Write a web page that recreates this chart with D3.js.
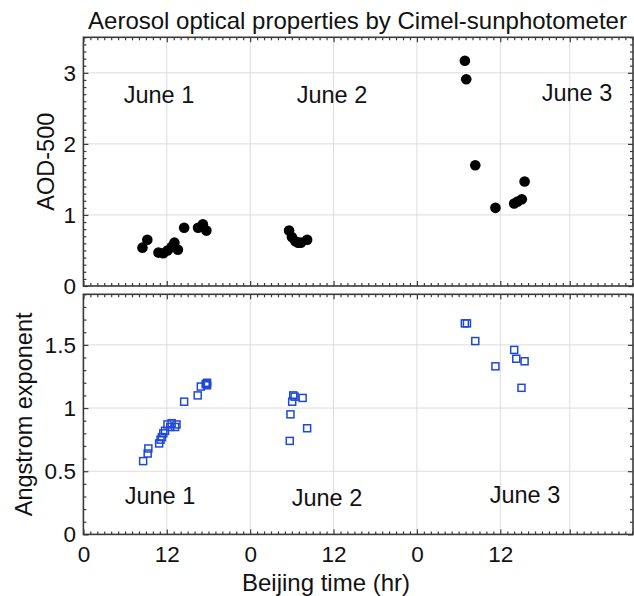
<!DOCTYPE html>
<html>
<head>
<meta charset="utf-8">
<script src="https://cdn.jsdelivr.net/npm/d3@7"></script>
<style>
  html, body { margin: 0; padding: 0; background: #fff; }
  svg { display: block; font-family: "Liberation Sans", Arial, Helvetica, sans-serif; }
</style>
</head>
<body>
<svg id="chart" width="634" height="596"></svg>
<script>
// Time axis: hours since 00:00 Beijing time on June 1
const xTickValues = [0, 12, 24, 36, 48, 60, 70];
const xTickLabels = ["0", "12", "0", "12", "0", "12", ""];

// AOD at 500 nm (upper panel)
const aodHours = [8.5, 9.2, 10.8, 11.5, 12.1, 12.7, 13.1, 13.6, 14.5, 16.5, 17.2, 17.7,
                  29.6, 30.0, 30.5, 30.9, 31.3, 32.2,
                  54.9, 55.1, 56.4, 59.3, 62.0, 62.5, 63.1, 63.5];
const aodValues = [0.54, 0.65, 0.47, 0.46, 0.50, 0.55, 0.61, 0.51, 0.82, 0.82, 0.87, 0.78,
                   0.78, 0.69, 0.63, 0.61, 0.61, 0.65,
                   3.17, 2.91, 1.70, 1.10, 1.16, 1.19, 1.22, 1.47];

// Angstrom exponent (lower panel)
const aeHours = [8.6, 9.25, 9.35, 10.9, 11.1, 11.3, 11.5, 11.75, 12.1, 12.5, 12.7, 13.2, 13.4,
                 14.5, 16.45, 16.9, 17.6, 17.8, 17.8,
                 29.7, 29.8, 30.05, 30.2, 30.4, 31.55, 32.2,
                 54.9, 55.2, 56.4, 59.3, 62.0, 62.3, 63.5, 63.05];
const aeValues = [0.58, 0.64, 0.68, 0.72, 0.75, 0.77, 0.80, 0.82, 0.87, 0.85, 0.88, 0.85, 0.87,
                  1.05, 1.10, 1.17, 1.19, 1.18, 1.20,
                  0.74, 0.95, 1.05, 1.10, 1.09, 1.08, 0.84,
                  1.67, 1.67, 1.53, 1.33, 1.46, 1.39, 1.37, 1.16];

const aodTicks = [0, 1, 2, 3];
const aeTicks = [0, 0.5, 1, 1.5];
const dayLabels = ["June 1", "June 2", "June 3"];

const svg = d3.select("#chart");
const left = 83.4, right = 633;

const x = d3.scaleLinear().domain([0, 79.1]).range([left, right]);
const yTop = d3.scaleLinear().domain([0, 3.5]).range([286, 37.3]);
const yBot = d3.scaleLinear().domain([0, 1.9]).range([534.4, 294.3]);

const gridColor = "#dcdcdc";
const frameColor = "#3a3a3a";
const tickFont = 22.5;

function panel(y, yTicks, showXLabels) {
  const g = svg.append("g");
  const [y0, y1] = y.range();

  // gridlines
  g.selectAll("line.vg").data(xTickValues.filter(d => d > 0)).join("line")
    .attr("x1", d => x(d)).attr("x2", d => x(d))
    .attr("y1", y1).attr("y2", y0)
    .attr("stroke", gridColor).attr("stroke-width", 1);
  g.selectAll("line.hg").data(yTicks.filter(d => d > 0)).join("line")
    .attr("x1", left).attr("x2", right)
    .attr("y1", d => y(d)).attr("y2", d => y(d))
    .attr("stroke", gridColor).attr("stroke-width", 1);

  const xMinor = d3.range(0, 80, 1).filter(d => !xTickValues.includes(d));
  const yStep = 0.1;
  const yMinor = d3.range(0, y.domain()[1] + 1e-9, yStep)
    .map(d => +d.toFixed(2))
    .filter(d => !yTicks.some(t => Math.abs(t - d) < 1e-6));

  const styleAxis = sel => {
    sel.select(".domain").remove();
    sel.selectAll(".tick line").attr("stroke", frameColor).attr("stroke-width", 1.2);
    sel.selectAll(".tick text").attr("font-size", tickFont).attr("fill", "#111")
      .attr("font-family", "Liberation Sans, Arial, sans-serif");
  };

  // bottom axis (major + minor)
  g.append("g").attr("transform", `translate(0,${y0})`)
    .call(d3.axisBottom(x).tickValues(xTickValues)
      .tickFormat((d, i) => showXLabels ? xTickLabels[i] : "")
      .tickSizeInner(-5).tickSizeOuter(0).tickPadding(12))
    .call(styleAxis);
  g.append("g").attr("transform", `translate(0,${y0})`)
    .call(d3.axisBottom(x).tickValues(xMinor).tickFormat("").tickSizeInner(-3).tickSizeOuter(0))
    .call(styleAxis);
  // top axis
  g.append("g").attr("transform", `translate(0,${y1})`)
    .call(d3.axisTop(x).tickValues(xTickValues).tickFormat("").tickSizeInner(-5).tickSizeOuter(0))
    .call(styleAxis);
  g.append("g").attr("transform", `translate(0,${y1})`)
    .call(d3.axisTop(x).tickValues(xMinor).tickFormat("").tickSizeInner(-3).tickSizeOuter(0))
    .call(styleAxis);
  // left axis
  g.append("g").attr("transform", `translate(${left},0)`)
    .call(d3.axisLeft(y).tickValues(yTicks).tickFormat(d3.format("~g"))
      .tickSizeInner(-5).tickSizeOuter(0).tickPadding(7.5))
    .call(styleAxis);
  g.append("g").attr("transform", `translate(${left},0)`)
    .call(d3.axisLeft(y).tickValues(yMinor).tickFormat("").tickSizeInner(-3).tickSizeOuter(0))
    .call(styleAxis);
  // right axis
  g.append("g").attr("transform", `translate(${right},0)`)
    .call(d3.axisRight(y).tickValues(yTicks).tickFormat("").tickSizeInner(-5).tickSizeOuter(0))
    .call(styleAxis);
  g.append("g").attr("transform", `translate(${right},0)`)
    .call(d3.axisRight(y).tickValues(yMinor).tickFormat("").tickSizeInner(-3).tickSizeOuter(0))
    .call(styleAxis);

  // frame
  g.append("rect")
    .attr("x", left).attr("y", y1)
    .attr("width", right - left).attr("height", y0 - y1)
    .attr("fill", "none").attr("stroke", frameColor).attr("stroke-width", 1.6);
  return g;
}

const gTop = panel(yTop, aodTicks, false);
const gBot = panel(yBot, aeTicks, true);

// AOD markers
gTop.selectAll("circle.aod").data(aodHours.map((h, i) => [h, aodValues[i]])).join("circle")
  .attr("cx", d => x(d[0])).attr("cy", d => yTop(d[1]))
  .attr("r", 5.3).attr("fill", "#000");

// Angstrom exponent markers
const side = 7;
gBot.selectAll("rect.ae").data(aeHours.map((h, i) => [h, aeValues[i]])).join("rect")
  .attr("x", d => x(d[0]) - side / 2).attr("y", d => yBot(d[1]) - side / 2)
  .attr("width", side).attr("height", side)
  .attr("fill", "none").attr("stroke", "#1f48d8").attr("stroke-width", 1.5);

// day annotations
const dayTopX = [159, 332, 577];
const dayTopY = [103, 103, 100.5];
const dayBotX = [160, 327, 525];
const dayBotY = [504, 506, 502.7];
svg.selectAll("text.dayTop").data(dayLabels).join("text")
  .attr("x", (d, i) => dayTopX[i]).attr("y", (d, i) => dayTopY[i])
  .attr("text-anchor", "middle").attr("font-size", 23.5).attr("fill", "#111").text(d => d);
svg.selectAll("text.dayBot").data(dayLabels).join("text")
  .attr("x", (d, i) => dayBotX[i]).attr("y", (d, i) => dayBotY[i])
  .attr("text-anchor", "middle").attr("font-size", 23.5).attr("fill", "#111").text(d => d);

// title and axis titles
svg.append("text").attr("x", 357.5).attr("y", 28.5).attr("text-anchor", "middle")
  .attr("font-size", 24).attr("fill", "#111")
  .text("Aerosol optical properties by Cimel-sunphotometer");
svg.append("text").attr("x", 326).attr("y", 590.5).attr("text-anchor", "middle")
  .attr("font-size", 24).attr("fill", "#111").text("Beijing time (hr)");
svg.append("text").attr("transform", "translate(54,161.7) rotate(-90)").attr("text-anchor", "middle")
  .attr("font-size", 23.5).attr("fill", "#111").text("AOD-500");
svg.append("text").attr("transform", "translate(32,414.4) rotate(-90)").attr("text-anchor", "middle")
  .attr("font-size", 23.5).attr("fill", "#111").text("Angstrom exponent");
</script>
</body>
</html>
